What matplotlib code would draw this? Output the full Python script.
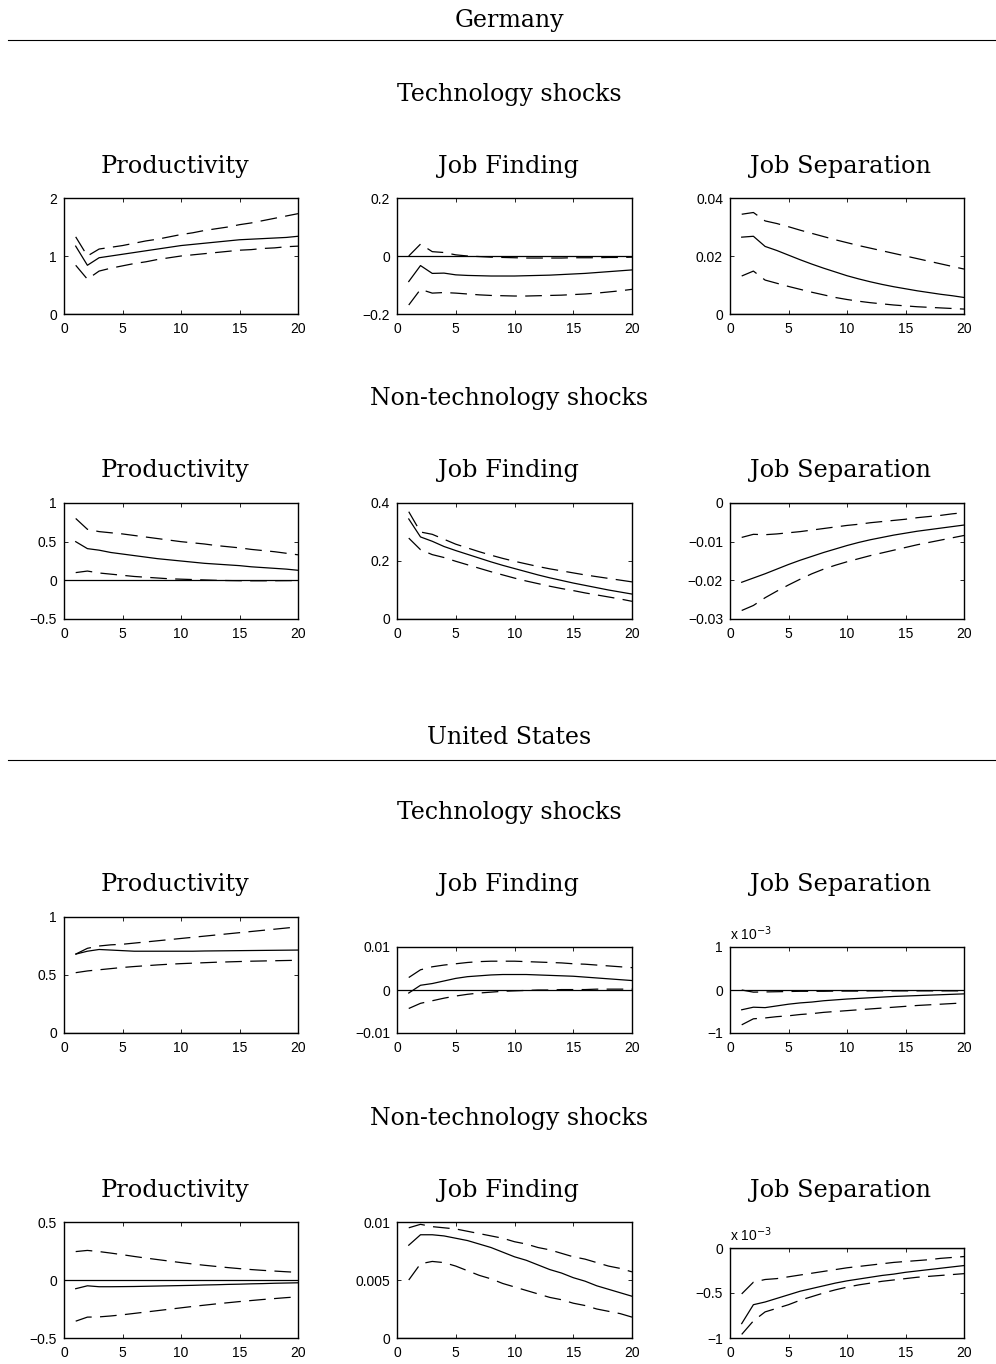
import numpy as np
import matplotlib
matplotlib.use("Agg")
import matplotlib.pyplot as plt
from matplotlib.lines import Line2D
from matplotlib.ticker import FuncFormatter

plt.rcParams['lines.scale_dashes'] = False

# horizonte 1..20
h = np.arange(1, 21)

# ---------------- Alemania, choques tecnológicos
de_tech_prod = [1.17, 0.84, 0.97, 1.00, 1.03, 1.06, 1.09, 1.12, 1.15, 1.18, 1.20, 1.22, 1.24, 1.26, 1.28, 1.29, 1.30, 1.31, 1.32, 1.34]
de_tech_prod_hi = [1.33, 1.00, 1.12, 1.15, 1.18, 1.22, 1.26, 1.29, 1.33, 1.37, 1.40, 1.44, 1.47, 1.50, 1.54, 1.57, 1.61, 1.65, 1.69, 1.73]
de_tech_prod_lo = [0.84, 0.60, 0.74, 0.79, 0.83, 0.87, 0.90, 0.94, 0.97, 1.00, 1.02, 1.04, 1.06, 1.08, 1.10, 1.11, 1.13, 1.14, 1.16, 1.17]

de_tech_jf = [-0.088, -0.033, -0.060, -0.059, -0.065, -0.067, -0.068, -0.069, -0.069, -0.069, -0.068, -0.067, -0.066, -0.064, -0.062, -0.060, -0.057, -0.054, -0.051, -0.048]
de_tech_jf_hi = [0.0, 0.041, 0.015, 0.012, 0.004, 0.0, -0.002, -0.004, -0.005, -0.006, -0.007, -0.007, -0.007, -0.007, -0.006, -0.006, -0.006, -0.005, -0.005, -0.004]
de_tech_jf_lo = [-0.169, -0.115, -0.128, -0.126, -0.128, -0.131, -0.134, -0.136, -0.137, -0.138, -0.138, -0.137, -0.136, -0.135, -0.133, -0.131, -0.128, -0.124, -0.120, -0.115]

de_tech_js = [0.0265, 0.0268, 0.0233, 0.0219, 0.0203, 0.0187, 0.0172, 0.0158, 0.0145, 0.0132, 0.0121, 0.0111, 0.0102, 0.0094, 0.0087, 0.0080, 0.0074, 0.0068, 0.0063, 0.0057]
de_tech_js_hi = [0.0344, 0.0350, 0.0321, 0.0312, 0.0301, 0.0289, 0.0278, 0.0267, 0.0256, 0.0246, 0.0236, 0.0227, 0.0218, 0.0209, 0.0200, 0.0191, 0.0182, 0.0173, 0.0164, 0.0155]
de_tech_js_lo = [0.0131, 0.0148, 0.0117, 0.0106, 0.0095, 0.0085, 0.0075, 0.0066, 0.0057, 0.0050, 0.0044, 0.0039, 0.0035, 0.0031, 0.0028, 0.0025, 0.0023, 0.0021, 0.0019, 0.0017]

# ---------------- Alemania, choques no tecnológicos
de_non_prod = [0.50, 0.41, 0.39, 0.36, 0.34, 0.32, 0.30, 0.28, 0.265, 0.25, 0.235, 0.22, 0.21, 0.20, 0.19, 0.175, 0.165, 0.155, 0.145, 0.13]
de_non_prod_hi = [0.80, 0.66, 0.63, 0.615, 0.60, 0.58, 0.56, 0.54, 0.52, 0.50, 0.485, 0.47, 0.45, 0.435, 0.42, 0.40, 0.385, 0.37, 0.35, 0.33]
de_non_prod_lo = [0.10, 0.12, 0.095, 0.08, 0.065, 0.05, 0.04, 0.03, 0.02, 0.015, 0.01, 0.005, 0.0, -0.003, -0.005, -0.006, -0.006, -0.005, -0.004, -0.003]

de_non_jf = [0.345, 0.283, 0.268, 0.250, 0.236, 0.223, 0.210, 0.197, 0.185, 0.174, 0.163, 0.152, 0.142, 0.133, 0.124, 0.116, 0.108, 0.100, 0.093, 0.086]
de_non_jf_hi = [0.370, 0.300, 0.292, 0.275, 0.258, 0.245, 0.232, 0.220, 0.209, 0.199, 0.190, 0.181, 0.173, 0.166, 0.159, 0.152, 0.146, 0.140, 0.134, 0.128]
de_non_jf_lo = [0.279, 0.239, 0.222, 0.212, 0.199, 0.187, 0.175, 0.163, 0.152, 0.141, 0.131, 0.122, 0.113, 0.105, 0.098, 0.090, 0.083, 0.076, 0.069, 0.061]

de_non_js = [-0.0205, -0.0194, -0.0183, -0.0171, -0.0159, -0.0148, -0.0138, -0.0128, -0.0119, -0.0110, -0.0102, -0.0095, -0.0089, -0.0083, -0.0078, -0.0073, -0.0069, -0.0065, -0.0061, -0.0057]
de_non_js_hi = [-0.0089, -0.0081, -0.0082, -0.0080, -0.0077, -0.0074, -0.0070, -0.0066, -0.0062, -0.0058, -0.0055, -0.0051, -0.0048, -0.0045, -0.0042, -0.0038, -0.0035, -0.0032, -0.0028, -0.0025]
de_non_js_lo = [-0.0278, -0.0265, -0.0245, -0.0228, -0.0212, -0.0197, -0.0183, -0.0171, -0.0161, -0.0152, -0.0144, -0.0136, -0.0129, -0.0122, -0.0115, -0.0108, -0.0102, -0.0096, -0.0090, -0.0084]

# ---------------- Estados Unidos, choques tecnológicos
us_tech_prod = [0.68, 0.705, 0.72, 0.715, 0.71, 0.705, 0.705, 0.705, 0.705, 0.705, 0.705, 0.707, 0.708, 0.709, 0.71, 0.711, 0.712, 0.713, 0.714, 0.715]
us_tech_prod_hi = [0.68, 0.73, 0.75, 0.76, 0.765, 0.775, 0.785, 0.795, 0.805, 0.815, 0.825, 0.835, 0.845, 0.855, 0.865, 0.875, 0.885, 0.895, 0.905, 0.915]
us_tech_prod_lo = [0.52, 0.535, 0.545, 0.555, 0.565, 0.573, 0.58, 0.587, 0.593, 0.598, 0.602, 0.606, 0.61, 0.613, 0.616, 0.619, 0.621, 0.623, 0.625, 0.627]

us_tech_jf = [-0.0007, 0.0011, 0.0015, 0.0021, 0.0027, 0.0031, 0.0033, 0.0035, 0.0036, 0.0036, 0.0036, 0.0035, 0.0034, 0.0033, 0.0032, 0.0030, 0.0028, 0.0026, 0.0024, 0.0022]
us_tech_jf_hi = [0.0029, 0.0047, 0.0054, 0.0058, 0.0061, 0.0064, 0.0066, 0.0067, 0.0067, 0.0067, 0.0066, 0.0065, 0.0064, 0.0063, 0.0061, 0.0060, 0.0058, 0.0056, 0.0054, 0.0052]
us_tech_jf_lo = [-0.0043, -0.0031, -0.0025, -0.0019, -0.0014, -0.0010, -0.0007, -0.0005, -0.0003, -0.0002, -0.0001, 0.0, 0.0, 0.0001, 0.0001, 0.0001, 0.0002, 0.0002, 0.0002, 0.0002]

us_tech_js = [-0.46e-3, -0.40e-3, -0.41e-3, -0.37e-3, -0.33e-3, -0.30e-3, -0.28e-3, -0.25e-3, -0.23e-3, -0.21e-3, -0.195e-3, -0.18e-3, -0.165e-3, -0.15e-3, -0.14e-3, -0.13e-3, -0.12e-3, -0.11e-3, -0.10e-3, -0.09e-3]
us_tech_js_hi = [0.0, -0.05e-3, -0.045e-3, -0.04e-3, -0.035e-3, -0.03e-3, -0.03e-3, -0.03e-3, -0.025e-3, -0.025e-3, -0.025e-3, -0.02e-3, -0.02e-3, -0.02e-3, -0.02e-3, -0.02e-3, -0.02e-3, -0.02e-3, -0.02e-3, -0.02e-3]
us_tech_js_lo = [-0.81e-3, -0.67e-3, -0.65e-3, -0.62e-3, -0.60e-3, -0.57e-3, -0.55e-3, -0.52e-3, -0.50e-3, -0.48e-3, -0.46e-3, -0.44e-3, -0.42e-3, -0.40e-3, -0.38e-3, -0.36e-3, -0.345e-3, -0.33e-3, -0.315e-3, -0.30e-3]

# ---------------- Estados Unidos, choques no tecnológicos
us_non_prod = [-0.075, -0.050, -0.058, -0.058, -0.057, -0.056, -0.054, -0.052, -0.050, -0.048, -0.046, -0.043, -0.041, -0.038, -0.036, -0.033, -0.031, -0.028, -0.026, -0.024]
us_non_prod_hi = [0.245, 0.255, 0.245, 0.232, 0.218, 0.203, 0.189, 0.176, 0.163, 0.150, 0.138, 0.127, 0.117, 0.107, 0.098, 0.090, 0.083, 0.077, 0.071, 0.066]
us_non_prod_lo = [-0.355, -0.320, -0.318, -0.310, -0.300, -0.288, -0.276, -0.264, -0.252, -0.240, -0.228, -0.217, -0.206, -0.196, -0.186, -0.177, -0.168, -0.160, -0.152, -0.145]

us_non_jf = [0.0080, 0.0089, 0.0089, 0.0088, 0.0086, 0.0084, 0.0081, 0.0078, 0.0074, 0.0070, 0.0067, 0.0063, 0.0059, 0.0056, 0.0052, 0.0049, 0.0045, 0.0042, 0.0039, 0.0036]
us_non_jf_hi = [0.0095, 0.0098, 0.0096, 0.0095, 0.0094, 0.0092, 0.0090, 0.0088, 0.0086, 0.0083, 0.0081, 0.0078, 0.0076, 0.0073, 0.0070, 0.0068, 0.0065, 0.0062, 0.0060, 0.0057]
us_non_jf_lo = [0.0050, 0.0064, 0.0066, 0.0065, 0.0062, 0.0058, 0.0054, 0.0051, 0.0047, 0.0044, 0.0041, 0.0038, 0.0035, 0.0033, 0.0030, 0.0028, 0.0025, 0.0023, 0.0021, 0.0018]

us_non_js = [-0.84e-3, -0.63e-3, -0.60e-3, -0.56e-3, -0.52e-3, -0.48e-3, -0.45e-3, -0.42e-3, -0.39e-3, -0.365e-3, -0.345e-3, -0.325e-3, -0.305e-3, -0.29e-3, -0.27e-3, -0.255e-3, -0.24e-3, -0.225e-3, -0.21e-3, -0.195e-3]
us_non_js_hi = [-0.51e-3, -0.38e-3, -0.35e-3, -0.34e-3, -0.32e-3, -0.30e-3, -0.28e-3, -0.26e-3, -0.24e-3, -0.22e-3, -0.205e-3, -0.19e-3, -0.175e-3, -0.16e-3, -0.15e-3, -0.14e-3, -0.13e-3, -0.115e-3, -0.105e-3, -0.095e-3]
us_non_js_lo = [-0.96e-3, -0.81e-3, -0.71e-3, -0.67e-3, -0.63e-3, -0.58e-3, -0.54e-3, -0.50e-3, -0.465e-3, -0.435e-3, -0.41e-3, -0.39e-3, -0.37e-3, -0.355e-3, -0.34e-3, -0.325e-3, -0.315e-3, -0.305e-3, -0.295e-3, -0.285e-3]

titulos = ['Productivity', 'Job Finding', 'Job Separation']
titulo_x = [175, 508, 841]

W, H = 996, 1364
fig = plt.figure(figsize=(W / 100, H / 100), dpi=100)
fig.patch.set_facecolor('white')

serif = 'DejaVu Serif'
sans = 'Liberation Sans'


def px_axes(x0, y0, x1, y1):
    # caja en pixeles (origen arriba a la izquierda) -> fracción de figura
    return fig.add_axes([x0 / W, 1 - y1 / H, (x1 - x0) / W, (y1 - y0) / H])


def fmt(v, pos, escala=1.0):
    s = '%g' % round(v * escala, 6)
    if s == '-0':
        s = '0'
    return s.replace('-', '\u2212')


def panel(box, med, hi, lo, ylim, yticks, escala=1.0):
    ax = px_axes(*box)
    ax.axhline(0, color='black', lw=0.9)
    ax.plot(h, med, color='black', lw=0.9)
    ax.plot(h, hi, color='black', lw=0.9, dashes=(12, 6))
    ax.plot(h, lo, color='black', lw=0.9, dashes=(12, 6))
    ax.set_xlim(0, 20)
    ax.set_ylim(*ylim)
    ax.set_xticks([0, 5, 10, 15, 20])
    ax.set_yticks(yticks)
    ax.yaxis.set_major_formatter(FuncFormatter(lambda v, p: fmt(v, p, escala)))
    ax.tick_params(direction='in', length=3, width=0.6, top=True, right=True,
                   labelsize=10, pad=5)
    ax.tick_params(axis='x', pad=6)
    for lab in ax.get_xticklabels() + ax.get_yticklabels():
        lab.set_family(sans)
    for sp in ax.spines.values():
        sp.set_linewidth(1.0)
    if escala != 1.0:
        ax.text(0.0, 1.05, 'x 10$^{\u22123}$', transform=ax.transAxes,
                fontsize=10, family=sans, ha='left', va='bottom')
    return ax


cols = [(64, 298), (397, 632), (730, 964)]

# Alemania
panel((cols[0][0], 198, cols[0][1], 314), de_tech_prod, de_tech_prod_hi, de_tech_prod_lo, (0, 2), [0, 1, 2])
panel((cols[1][0], 198, cols[1][1], 314), de_tech_jf, de_tech_jf_hi, de_tech_jf_lo, (-0.2, 0.2), [-0.2, 0, 0.2])
panel((cols[2][0], 198, cols[2][1], 314), de_tech_js, de_tech_js_hi, de_tech_js_lo, (0, 0.04), [0, 0.02, 0.04])

panel((cols[0][0], 503, cols[0][1], 619), de_non_prod, de_non_prod_hi, de_non_prod_lo, (-0.5, 1), [-0.5, 0, 0.5, 1])
panel((cols[1][0], 503, cols[1][1], 619), de_non_jf, de_non_jf_hi, de_non_jf_lo, (0, 0.4), [0, 0.2, 0.4])
panel((cols[2][0], 503, cols[2][1], 619), de_non_js, de_non_js_hi, de_non_js_lo, (-0.03, 0), [-0.03, -0.02, -0.01, 0])

# Estados Unidos
panel((cols[0][0], 917, cols[0][1], 1033), us_tech_prod, us_tech_prod_hi, us_tech_prod_lo, (0, 1), [0, 0.5, 1])
panel((cols[1][0], 947, cols[1][1], 1033), us_tech_jf, us_tech_jf_hi, us_tech_jf_lo, (-0.01, 0.01), [-0.01, 0, 0.01])
panel((cols[2][0], 947, cols[2][1], 1033), us_tech_js, us_tech_js_hi, us_tech_js_lo, (-1e-3, 1e-3), [-1e-3, 0, 1e-3], escala=1e3)

panel((cols[0][0], 1222, cols[0][1], 1338), us_non_prod, us_non_prod_hi, us_non_prod_lo, (-0.5, 0.5), [-0.5, 0, 0.5])
panel((cols[1][0], 1222, cols[1][1], 1338), us_non_jf, us_non_jf_hi, us_non_jf_lo, (0, 0.01), [0, 0.005, 0.01])
panel((cols[2][0], 1248, cols[2][1], 1338), us_non_js, us_non_js_hi, us_non_js_lo, (-1e-3, 0), [-1e-3, -0.5e-3, 0], escala=1e3)

# Títulos de cada panel
for ty in [166, 471, 885, 1190]:
    for t, tx in zip(titulos, titulo_x):
        fig.text(tx / W, 1 - ty / H, t, ha='center', va='center', fontsize=17.3, family=serif)

# Encabezados de sección
secciones = [('Germany', 20), ('Technology shocks', 95), ('Non-technology shocks', 398),
             ('United States', 738), ('Technology shocks', 813), ('Non-technology shocks', 1118)]
for t, ty in secciones:
    fig.text(509 / W, 1 - ty / H, t, ha='center', va='center', fontsize=17, family=serif)

for ly in [40, 760]:
    fig.add_artist(Line2D([8 / W, 1.0], [1 - ly / H, 1 - ly / H], transform=fig.transFigure,
                          color='black', lw=0.8))

fig.savefig('out.png', dpi=100, facecolor='white')
